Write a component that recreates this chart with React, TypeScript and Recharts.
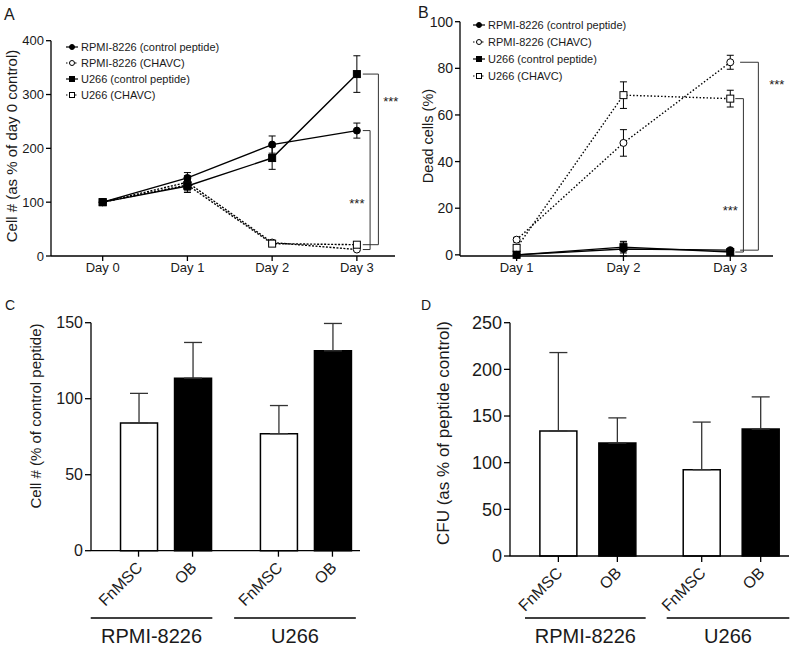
import {
  LineChart,
  Line,
  BarChart,
  Bar,
  Cell,
  XAxis,
  YAxis,
  ErrorBar,
  ReferenceLine,
  ReferenceDot,
} from "recharts";

const FONT = '"Liberation Sans", Arial, Helvetica, sans-serif';
const INK = "#1a1a1a";

// panel A: cell number as % of day 0
const daysA = ["Day 0", "Day 1", "Day 2", "Day 3"];
const rpmiCtrlA = [100, 145, 207, 233];
const rpmiCtrlErrA = [0, 10, 16, 14];
const rpmiChavcA = [100, 137, 25, 12];
const rpmiChavcErrA = [0, 12, 3, 2];
const u266CtrlA = [100, 130, 182, 338];
const u266CtrlErrA = [0, 9, 21, 34];
const u266ChavcA = [100, 132, 23, 21];
const u266ChavcErrA = [0, 14, 3, 3];

// panel B: dead cells (%)
const daysB = ["Day 1", "Day 2", "Day 3"];
const rpmiCtrlB = [0, 2.5, 2];
const rpmiCtrlErrB = [0.5, 3, 0.5];
const rpmiChavcB = [6.5, 48, 82.6];
const rpmiChavcErrB = [1, 5.7, 3];
const u266CtrlB = [0, 3.3, 1.2];
const u266CtrlErrB = [0.3, 2.5, 1];
const u266ChavcB = [3, 68.5, 67];
const u266ChavcErrB = [1, 5.7, 3.6];

// panels C and D
const cellTypes = ["FnMSC", "OB", "FnMSC", "OB"];
const cellLines = ["RPMI-8226", "U266"];
const cellNumC = [84, 113.5, 77, 131.5];
const cellNumErrC = [19.5, 23.5, 18.5, 18];
const cfuD = [134, 121, 92.5, 136];
const cfuErrD = [84, 27, 51, 34.5];

const series = [
  { key: "rpmiCtrl", name: "RPMI-8226 (control peptide)", shape: "circle", filled: true },
  { key: "rpmiChavc", name: "RPMI-8226 (CHAVC)", shape: "circle", filled: false },
  { key: "u266Ctrl", name: "U266 (control peptide)", shape: "square", filled: true },
  { key: "u266Chavc", name: "U266 (CHAVC)", shape: "square", filled: false },
];
// dotted ones underneath
const drawOrder = [1, 3, 0, 2];

const rowsA = daysA.map((d, i) => ({
  x: i,
  rpmiCtrl: rpmiCtrlA[i],
  rpmiCtrlErr: rpmiCtrlErrA[i],
  rpmiChavc: rpmiChavcA[i],
  rpmiChavcErr: rpmiChavcErrA[i],
  u266Ctrl: u266CtrlA[i],
  u266CtrlErr: u266CtrlErrA[i],
  u266Chavc: u266ChavcA[i],
  u266ChavcErr: u266ChavcErrA[i],
}));

const rowsB = daysB.map((d, i) => ({
  x: i + 1,
  rpmiCtrl: rpmiCtrlB[i],
  rpmiCtrlErr: rpmiCtrlErrB[i],
  rpmiChavc: rpmiChavcB[i],
  rpmiChavcErr: rpmiChavcErrB[i],
  u266Ctrl: u266CtrlB[i],
  u266CtrlErr: u266CtrlErrB[i],
  u266Chavc: u266ChavcB[i],
  u266ChavcErr: u266ChavcErrB[i],
}));

const Marker = ({ cx, cy, shape, filled, size }: any) => {
  if (cx == null || cy == null) return null;
  const fill = filled ? "#000" : "#fff";
  if (shape === "circle") {
    return <circle cx={cx} cy={cy} r={size / 2} fill={fill} stroke="#000" strokeWidth={1} />;
  }
  return (
    <rect x={cx - size / 2} y={cy - size / 2} width={size} height={size} fill={fill} stroke="#000" strokeWidth={1} />
  );
};

const LegendBox = ({ left, top, rowH }: any) => (
  <div style={{ position: "absolute", left, top, fontSize: 11, color: INK, whiteSpace: "nowrap" }}>
    {series.map((s) => (
      <div key={s.key} style={{ display: "flex", alignItems: "center", height: rowH }}>
        <svg width={12} height={10} style={{ marginRight: 3 }}>
          <line
            x1={0}
            y1={5}
            x2={12}
            y2={5}
            stroke="#000"
            strokeWidth={1.2}
            strokeDasharray={s.filled ? undefined : "1.5 1.5"}
          />
          <Marker cx={6} cy={5} shape={s.shape} filled={s.filled} size={5} />
        </svg>
        <span>{s.name}</span>
      </div>
    ))}
  </div>
);

const axisTitle = (text: string, x: number, y: number, size: number) => ({
  content: () => (
    <text
      x={x}
      y={y}
      transform={`rotate(-90 ${x} ${y})`}
      textAnchor="middle"
      fontSize={size}
      fill={INK}
      fontFamily={FONT}
    >
      {text}
    </text>
  ),
});

const axisStyle = { stroke: "#000", strokeWidth: 1.3 };

const renderLines = (dash: string, errW: number) =>
  drawOrder.map((k) => {
    const s = series[k];
    return (
      <Line
        key={s.key}
        type="linear"
        dataKey={s.key}
        name={s.name}
        stroke="#000"
        strokeWidth={1.4}
        strokeDasharray={s.filled ? undefined : dash}
        dot={(p: any) => (
          <Marker key={`${s.key}-${p.index}`} cx={p.cx} cy={p.cy} shape={s.shape} filled={s.filled} size={7} />
        )}
        activeDot={false}
        isAnimationActive={false}
      >
        <ErrorBar dataKey={`${s.key}Err`} width={errW} stroke="#000" strokeWidth={1} direction="y" />
      </Line>
    );
  });

const Bracket = ({ x0, x1, top, bottom }: any) => (
  <>
    <ReferenceLine segment={[{ x: x0, y: top }, { x: x1, y: top }]} stroke="#333" strokeWidth={1} ifOverflow="visible" />
    <ReferenceLine segment={[{ x: x1, y: top }, { x: x1, y: bottom }]} stroke="#333" strokeWidth={1} ifOverflow="visible" />
    <ReferenceLine segment={[{ x: x0, y: bottom }, { x: x1, y: bottom }]} stroke="#333" strokeWidth={1} ifOverflow="visible" />
  </>
);

const stars = (x: number, y: number) => (
  <ReferenceDot
    x={x}
    y={y}
    r={0}
    fill="none"
    stroke="none"
    ifOverflow="visible"
    label={{ value: "***", position: "center", fontSize: 13, fill: INK }}
  />
);

function PanelA() {
  return (
    <LineChart width={400} height={280} data={rowsA} margin={{ top: 40.7, right: 5, bottom: 0, left: 0 }}>
      <XAxis
        type="number"
        dataKey="x"
        domain={[-0.61, 3.45]}
        allowDataOverflow
        ticks={[0, 1, 2, 3]}
        tickFormatter={(v: number) => daysA[v]}
        interval={0}
        height={24}
        tickSize={5}
        axisLine={axisStyle}
        tickLine={axisStyle}
        tick={{ fontSize: 13, fill: INK }}
      />
      <YAxis
        type="number"
        domain={[0, 400]}
        ticks={[0, 100, 200, 300, 400]}
        interval={0}
        width={51}
        tickSize={5}
        axisLine={axisStyle}
        tickLine={axisStyle}
        tick={{ fontSize: 13, fill: INK }}
        label={axisTitle("Cell # (as % of day 0 control)", 17, 146, 15)}
      />
      {renderLines("2 1.5", 3.5)}
      <Bracket x0={3.07} x1={3.254} top={u266CtrlA[3]} bottom={u266ChavcA[3]} />
      <Bracket x0={3.07} x1={3.156} top={rpmiCtrlA[3]} bottom={rpmiChavcA[3]} />
      {stars(3.4, 287)}
      {stars(3.0, 97)}
    </LineChart>
  );
}

function PanelB() {
  return (
    <LineChart width={400} height={280} data={rowsB} margin={{ top: 21.7, right: 27, bottom: 0, left: 0 }}>
      <XAxis
        type="number"
        dataKey="x"
        domain={[0.47, 3.4]}
        allowDataOverflow
        ticks={[1, 2, 3]}
        tickFormatter={(v: number) => daysB[v - 1]}
        interval={0}
        height={24}
        tickSize={5}
        axisLine={axisStyle}
        tickLine={axisStyle}
        tick={{ fontSize: 13, fill: INK }}
      />
      <YAxis
        type="number"
        domain={[0, 100]}
        ticks={[0, 20, 40, 60, 80, 100]}
        interval={0}
        width={60}
        tickSize={5}
        axisLine={axisStyle}
        tickLine={axisStyle}
        tick={{ fontSize: 14, fill: INK }}
        label={axisTitle("Dead cells (%)", 33, 136, 14.5)}
      />
      {renderLines("1.5 2", 3.5)}
      <Bracket x0={3.092} x1={3.263} top={rpmiChavcB[2]} bottom={rpmiCtrlB[2]} />
      <Bracket x0={3.047} x1={3.123} top={u266ChavcB[2]} bottom={u266CtrlB[2]} />
      {stars(3.435, 72.9)}
      {stars(3.0, 19)}
    </LineChart>
  );
}

// group rule under each cell line: drawn from the tick of its first bar
function BarPanel({ values, errs, gap, domain, yDomain, yTicks, yWidth, right, axisH, ruleDy, ruleSpan, tickFont, title }: any) {
  const rows = cellTypes.map((t, i) => ({
    x: i + (i >= 2 ? gap : 0),
    v: values[i],
    err: [0, errs[i]],
    type: t,
    filled: i % 2 === 1,
  }));
  const xs = rows.map((r) => r.x);

  const TypeTick = ({ x, y, payload, index }: any) => {
    const row = rows.find((r) => Math.abs(r.x - payload.value) < 1e-6);
    const ax = x + 5;
    const ay = y + 10;
    const group = index % 2 === 0 ? index / 2 : -1;
    const ruleY = y - 8 + ruleDy;
    return (
      <g>
        <text x={ax} y={ay} transform={`rotate(-45 ${ax} ${ay})`} textAnchor="end" fontSize={16} fill={INK}>
          {row ? row.type : ""}
        </text>
        {group >= 0 && (
          <g>
            <line
              x1={x + ruleSpan[group][0]}
              x2={x + ruleSpan[group][1]}
              y1={ruleY}
              y2={ruleY}
              stroke="#000"
              strokeWidth={1.3}
            />
            <text
              x={x + (ruleSpan[group][0] + ruleSpan[group][1]) / 2}
              y={ruleY + 24.7}
              textAnchor="middle"
              fontSize={20}
              fill={INK}
            >
              {cellLines[group]}
            </text>
          </g>
        )}
      </g>
    );
  };

  return (
    <BarChart width={400} height={371} data={rows} margin={{ top: 42.7, right, bottom: 0, left: 0 }}>
      <XAxis
        type="number"
        dataKey="x"
        domain={domain}
        allowDataOverflow
        ticks={xs}
        interval={0}
        height={axisH}
        tickSize={6}
        axisLine={axisStyle}
        tickLine={axisStyle}
        tick={<TypeTick />}
      />
      <YAxis
        type="number"
        domain={yDomain}
        ticks={yTicks}
        interval={0}
        width={yWidth}
        tickSize={6}
        axisLine={axisStyle}
        tickLine={axisStyle}
        tick={{ fontSize: tickFont, fill: INK }}
        label={title}
      />
      <Bar dataKey="v" barSize={37} stroke="#000" strokeWidth={1.5} isAnimationActive={false}>
        {rows.map((r, i) => (
          <Cell key={i} fill={r.filled ? "#000" : "#fff"} />
        ))}
        <ErrorBar dataKey="err" width={9} stroke="#333" strokeWidth={1.3} direction="y" />
      </Bar>
    </BarChart>
  );
}

const letter = (t: string, left: number, top: number, size: number) => (
  <div style={{ position: "absolute", left, top, fontSize: size, lineHeight: 1, color: INK }}>{t}</div>
);

export default function App() {
  return (
    <div
      style={{
        position: "absolute",
        left: 0,
        top: 0,
        width: 800,
        height: 651,
        background: "#fff",
        fontFamily: FONT,
        overflow: "hidden",
      }}
    >
      <div style={{ position: "absolute", left: 0, top: 0 }}>
        <PanelA />
      </div>
      <div style={{ position: "absolute", left: 400, top: 0 }}>
        <PanelB />
      </div>
      <div style={{ position: "absolute", left: 0, top: 280 }}>
        <BarPanel
          values={cellNumC}
          errs={cellNumErrC}
          gap={0.59}
          domain={[-0.88, 4.1]}
          yDomain={[0, 150]}
          yTicks={[0, 50, 100, 150]}
          yWidth={91}
          right={40}
          axisH={100.3}
          ruleDy={67.3}
          ruleSpan={[
            [-47.8, 73.8],
            [-44.3, 77.4],
          ]}
          tickFont={16}
          title={axisTitle("Cell # (% of control peptide)", 41, 136, 15)}
        />
      </div>
      <div style={{ position: "absolute", left: 400, top: 280 }}>
        <BarPanel
          values={cfuD}
          errs={cfuErrD}
          gap={0.43}
          domain={[-0.82, 3.91]}
          yDomain={[0, 250]}
          yTicks={[0, 50, 100, 150, 200, 250]}
          yWidth={110}
          right={11}
          axisH={95}
          ruleDy={62}
          ruleSpan={[
            [-33.4, 87.3],
            [-35, 87.6],
          ]}
          tickFont={18}
          title={axisTitle("CFU (as % of peptide control)", 49, 153, 17)}
        />
      </div>
      <LegendBox left={66} top={38.7} rowH={16} />
      <LegendBox left={473} top={16.5} rowH={17} />
      {letter("A", 4, 6.5, 16)}
      {letter("B", 418, 5, 16)}
      {letter("C", 5, 298, 14)}
      {letter("D", 421, 298, 14)}
    </div>
  );
}
